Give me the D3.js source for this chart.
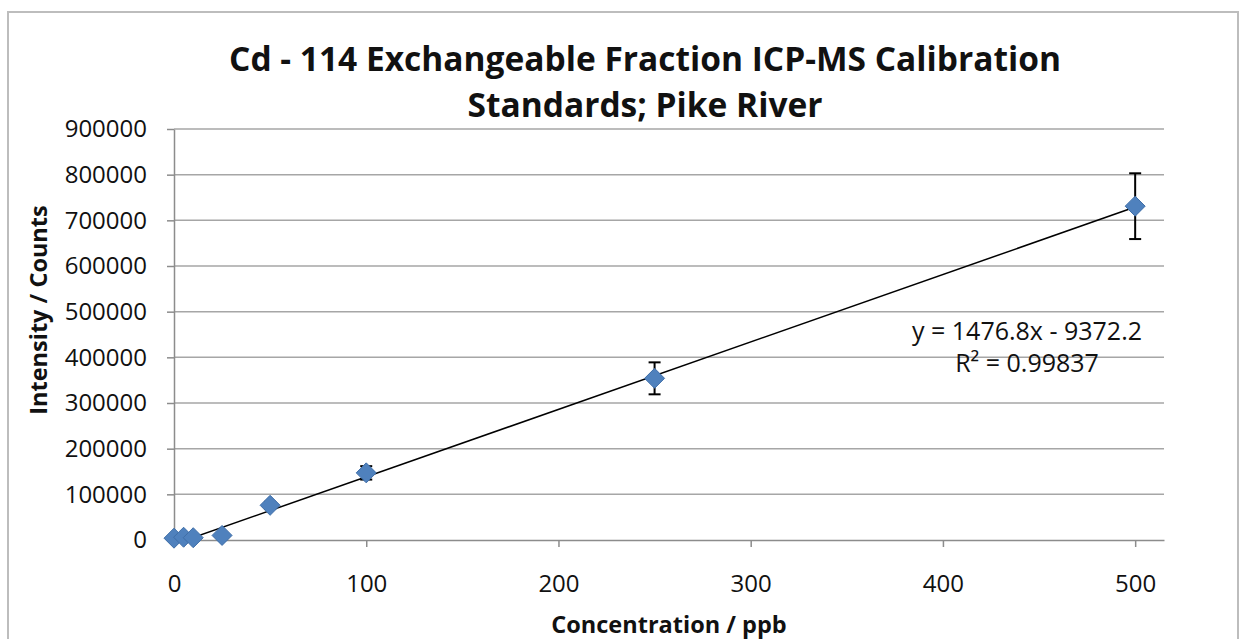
<!DOCTYPE html>
<html lang="en">
<head>
    <meta charset="UTF-8">
    <title>Cd - 114 Exchangeable Fraction ICP-MS Calibration Standards; Pike River</title>
    <style>
        body {
            margin: 0;
            background: #fff;
            font-family: "Open Sans", Arial, sans-serif;
        }
        .grid line {
            stroke: #a6a6a6;
            stroke-width: 1.5px;
        }
        .axis path, .axis line {
            stroke: #8c8c8c;
            stroke-width: 1.5px;
        }
        .axis text {
            font-family: "Open Sans", Arial, sans-serif;
            font-size: 24px;
            fill: #111;
        }
    </style>
</head>
<body>
    <div id="chart"></div>

    <script src="https://cdn.jsdelivr.net/npm/d3@7/dist/d3.min.js"></script>
    <script>
        // calibration standards
        var concentration = [0, 5, 10, 25, 50, 100, 250, 500];
        var intensity = [4000, 6000, 5000, 10000, 76000, 147000, 354000, 731000];
        var errorBar = [400, 600, 500, 1000, 7600, 14700, 35000, 72000];

        var xTicks = [0, 100, 200, 300, 400, 500];
        var yTicks = [0, 100000, 200000, 300000, 400000, 500000, 600000, 700000, 800000, 900000];

        var slope = 1476.8, intercept = -9372.2;
        var trendText = ["y = 1476.8x - 9372.2", "R\u00b2 = 0.99837"];
        var titleLines = ["Cd - 114 Exchangeable Fraction ICP-MS Calibration", "Standards; Pike River"];

        var width = 1248, height = 639;
        var margin = {left: 174, right: 84, top: 129, bottom: 99};

        var svg = d3.select("#chart").append("svg")
            .attr("width", width)
            .attr("height", height);

        // outer frame
        svg.append("rect")
            .attr("x", 8).attr("y", 12)
            .attr("width", 1230).attr("height", 640)
            .attr("fill", "none")
            .attr("stroke", "#bdbdbd")
            .attr("stroke-width", 2);

        var x = d3.scaleLinear()
            .domain([0, 515])
            .range([margin.left, width - margin.right]);

        var y = d3.scaleLinear()
            .domain([0, 900000])
            .range([height - margin.bottom, margin.top]);

        // horizontal gridlines
        svg.append("g")
            .attr("class", "grid")
            .selectAll("line")
            .data(yTicks.slice(1))
            .enter().append("line")
            .attr("x1", x(0)).attr("x2", x(515))
            .attr("y1", function(d) { return y(d); })
            .attr("y2", function(d) { return y(d); });

        svg.append("g")
            .attr("class", "axis")
            .attr("transform", "translate(0," + y(0) + ")")
            .call(d3.axisBottom(x).tickValues(xTicks).tickSize(7).tickSizeOuter(0).tickPadding(28));

        svg.append("g")
            .attr("class", "axis")
            .attr("transform", "translate(" + x(0) + ",0)")
            .call(d3.axisLeft(y).tickValues(yTicks).tickSize(7).tickSizeOuter(0).tickPadding(20)
                .tickFormat(d3.format("d")));

        // trendline, clipped to the plot area
        svg.append("clipPath").attr("id", "plot")
            .append("rect")
            .attr("x", x(0)).attr("y", y(900000))
            .attr("width", x(515) - x(0)).attr("height", y(0) - y(900000));

        var trendX = [0, 500];
        svg.append("path")
            .attr("clip-path", "url(#plot)")
            .attr("d", d3.line()
                .x(function(d) { return x(d); })
                .y(function(d) { return y(slope * d + intercept); })(trendX))
            .attr("fill", "none")
            .attr("stroke", "#000")
            .attr("stroke-width", 1.5);

        // error bars
        var eb = svg.append("g").selectAll("g")
            .data(concentration)
            .enter().append("g")
            .attr("stroke", "#000")
            .attr("stroke-width", 2);
        eb.append("line")
            .attr("x1", function(d) { return x(d); })
            .attr("x2", function(d) { return x(d); })
            .attr("y1", function(d, i) { return y(intensity[i] + errorBar[i]); })
            .attr("y2", function(d, i) { return y(intensity[i] - errorBar[i]); });
        [1, -1].forEach(function(s) {
            eb.append("line")
                .attr("x1", function(d) { return x(d) - 6; })
                .attr("x2", function(d) { return x(d) + 6; })
                .attr("y1", function(d, i) { return y(intensity[i] + s * errorBar[i]); })
                .attr("y2", function(d, i) { return y(intensity[i] + s * errorBar[i]); });
        });

        // diamond markers
        svg.append("g").selectAll("path")
            .data(concentration)
            .enter().append("path")
            .attr("d", "M0,-10L10,0L0,10L-10,0Z")
            .attr("transform", function(d, i) {
                return "translate(" + x(d) + "," + y(intensity[i]) + ")";
            })
            .attr("fill", "#4f81bd")
            .attr("stroke", "#3f6ea8")
            .attr("stroke-width", 1);

        // trendline label
        svg.append("g").selectAll("text")
            .data(trendText)
            .enter().append("text")
            .attr("x", 1027)
            .attr("y", function(d, i) { return 340 + i * 32; })
            .attr("text-anchor", "middle")
            .style("font-size", "25px")
            .attr("fill", "#111")
            .text(function(d) { return d; });

        // title
        svg.append("g").selectAll("text")
            .data(titleLines)
            .enter().append("text")
            .attr("x", 645)
            .attr("y", function(d, i) { return 71 + i * 46; })
            .attr("text-anchor", "middle")
            .style("font-size", "33.5px")
            .style("font-weight", "bold")
            .attr("fill", "#111")
            .text(function(d) { return d; });

        // axis titles
        svg.append("text")
            .attr("x", (x(0) + x(515)) / 2).attr("y", 633)
            .attr("text-anchor", "middle")
            .style("font-size", "23.5px")
            .style("font-weight", "bold")
            .attr("fill", "#111")
            .text("Concentration / ppb");

        svg.append("text")
            .attr("transform", "translate(47,310) rotate(-90)")
            .attr("text-anchor", "middle")
            .style("font-size", "23.5px")
            .style("font-weight", "bold")
            .attr("fill", "#111")
            .text("Intensity / Counts");
    </script>
</body>
</html>
